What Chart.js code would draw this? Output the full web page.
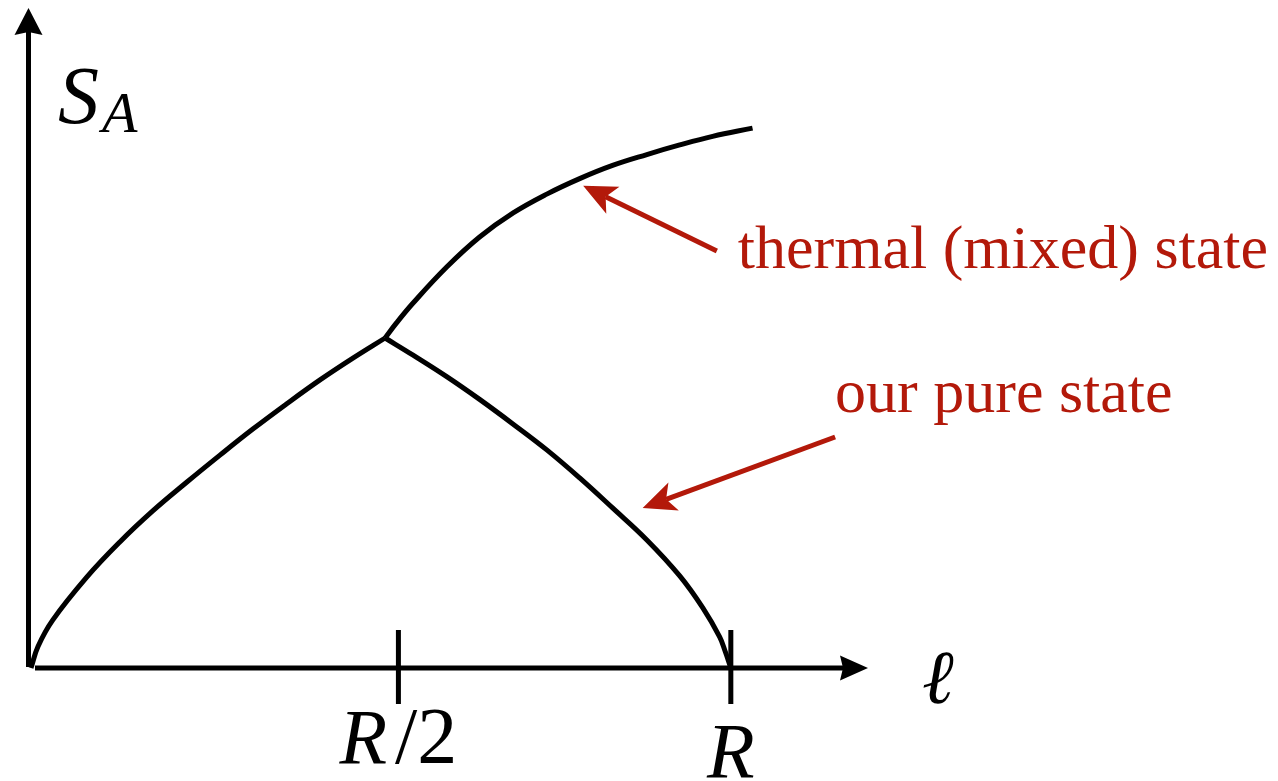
<!DOCTYPE html>
<html>
<head>
<meta charset="utf-8">
<script src="https://cdn.jsdelivr.net/npm/chart.js@4/dist/chart.umd.min.js"></script>
<style>
  html, body { margin: 0; padding: 0; background: #fff; }
  #wrap { width: 1278px; height: 781px; }
</style>
</head>
<body>
<div id="wrap"><canvas id="chart" width="1278" height="781"></canvas></div>
<script>
// x in units of R, y in units of the pure-state peak at R/2
const pureRiseX = [0, 0.010, 0.031, 0.080, 0.127, 0.174, 0.222, 0.270, 0.317, 0.365, 0.413, 0.460, 0.506];
const pureRiseY = [0, 0.065, 0.145, 0.276, 0.382, 0.476, 0.562, 0.645, 0.724, 0.800, 0.873, 0.939, 1.000];

const pureFallX = [0.506, 0.546, 0.594, 0.641, 0.689, 0.737, 0.784, 0.831, 0.880, 0.927, 0.960, 0.984, 0.992, 1.000];
const pureFallY = [1.000, 0.948, 0.883, 0.814, 0.739, 0.661, 0.576, 0.485, 0.388, 0.279, 0.182, 0.094, 0.050, 0];

const thermalX = [0.506, 0.522, 0.546, 0.594, 0.641, 0.689, 0.737, 0.784, 0.831, 0.880, 0.927, 0.974, 1.031];
const thermalY = [1.000, 1.045, 1.106, 1.215, 1.306, 1.379, 1.436, 1.483, 1.523, 1.556, 1.585, 1.611, 1.636];

const tickValues = [0.525, 1.0];
const tickLabels = ['R/2', 'R'];

const noteTexts = ['thermal (mixed) state', 'our pure state'];
// arrow start, arrow tip, text anchor (left, baseline) in data units
const noteArrows = [
    { from: [0.980, 1.264], to: [0.789, 1.461], text: [1.010, 1.212] },
    { from: [1.149, 0.700], to: [0.874, 0.485], text: [1.149, 0.776] }
];

const ink = '#000000';
const red = '#b3190a';

const toPoints = (xs, ys) => xs.map((x, i) => ({ x, y: ys[i] }));

function arrowHead(ctx, tipX, tipY, fromX, fromY, len, half, notch) {
    const L = Math.hypot(tipX - fromX, tipY - fromY);
    const ux = (tipX - fromX) / L, uy = (tipY - fromY) / L;
    const nx = -uy, ny = ux;
    const bx = tipX - ux * len, by = tipY - uy * len;
    ctx.beginPath();
    ctx.moveTo(tipX, tipY);
    ctx.lineTo(bx + nx * half, by + ny * half);
    ctx.lineTo(tipX - ux * (len - notch), tipY - uy * (len - notch));
    ctx.lineTo(bx - nx * half, by - ny * half);
    ctx.closePath();
    ctx.fill();
}

function arrowLine(ctx, x0, y0, x1, y1, width, len, half, notch, color) {
    const L = Math.hypot(x1 - x0, y1 - y0);
    const ux = (x1 - x0) / L, uy = (y1 - y0) / L;
    ctx.strokeStyle = color;
    ctx.fillStyle = color;
    ctx.lineWidth = width;
    ctx.lineCap = 'butt';
    ctx.beginPath();
    ctx.moveTo(x0, y0);
    ctx.lineTo(x1 - ux * (len - notch), y1 - uy * (len - notch));
    ctx.stroke();
    arrowHead(ctx, x1, y1, x0, y0, len, half, notch);
}

const axesPlugin = {
    id: 'sketchAxes',
    beforeDatasetsDraw(chart) {
        const { ctx, chartArea, scales } = chart;
        const xs = scales.x, ys = scales.y;
        const ox = xs.getPixelForValue(0);
        const oy = ys.getPixelForValue(0);
        ctx.save();
        // vertical axis
        arrowLine(ctx, ox - 2.5, oy - 1, ox - 2.5, chartArea.top, 5, 27, 14, 3, ink);
        // horizontal axis
        arrowLine(ctx, ox + 4, oy, chartArea.right, oy, 5, 28, 12.5, 3, ink);

        // ticks
        ctx.strokeStyle = ink;
        ctx.lineWidth = 5;
        tickValues.forEach(v => {
            const px = xs.getPixelForValue(v);
            ctx.beginPath();
            ctx.moveTo(px, oy - 38);
            ctx.lineTo(px, oy + 36);
            ctx.stroke();
        });
        ctx.restore();
    },
    afterDatasetsDraw(chart) {
        const { ctx, chartArea, scales } = chart;
        const xs = scales.x, ys = scales.y;
        const ox = xs.getPixelForValue(0);
        const oy = ys.getPixelForValue(0);
        ctx.save();
        ctx.fillStyle = ink;
        ctx.textBaseline = 'alphabetic';
        ctx.textAlign = 'left';

        // tick labels: italic R, upright "/2"
        const italic = 'italic 78px "Liberation Serif", serif';
        const upright = '80px "Liberation Serif", serif';
        const drops = [95, 109];
        tickLabels.forEach((lab, i) => {
            const px = xs.getPixelForValue(tickValues[i]);
            const head = lab.slice(0, 1), tail = lab.slice(1);
            const gap = tail ? 8 : 0;
            ctx.font = italic;
            const w1 = ctx.measureText(head).width;
            ctx.font = upright;
            const w2 = ctx.measureText(tail).width;
            const x = px - (w1 + w2 + gap) / 2;
            ctx.font = italic;
            ctx.fillText(head, x, oy + drops[i]);
            ctx.font = upright;
            ctx.fillText(tail, x + w1 + gap, oy + drops[i]);
        });

        // axis titles
        ctx.font = 'italic 82px "Liberation Serif", serif';
        ctx.fillText('S', ox + 27, chartArea.top + 115);
        ctx.font = 'italic 58px "Liberation Serif", serif';
        ctx.fillText('A', ox + 71, chartArea.top + 124);
        ctx.font = 'italic 76px "Liberation Serif", serif';
        ctx.fillText('\u2113', chartArea.right + 54, oy + 35);

        // annotations
        ctx.font = '62px "Liberation Serif", serif';
        noteArrows.forEach((a, i) => {
            arrowLine(ctx,
                xs.getPixelForValue(a.from[0]), ys.getPixelForValue(a.from[1]),
                xs.getPixelForValue(a.to[0]), ys.getPixelForValue(a.to[1]),
                5, 33, 15, 8, red);
            ctx.fillStyle = red;
            ctx.fillText(noteTexts[i], xs.getPixelForValue(a.text[0]), ys.getPixelForValue(a.text[1]));
        });
        ctx.restore();
    }
};

const curveStyle = {
    borderColor: ink,
    borderWidth: 5,
    pointRadius: 0,
    fill: false,
    clip: false,
    tension: 0.4
};

new Chart(document.getElementById('chart'), {
    type: 'line',
    data: {
        datasets: [
            { label: 'pure rise', data: toPoints(pureRiseX, pureRiseY), ...curveStyle },
            { label: 'pure fall', data: toPoints(pureFallX, pureFallY), ...curveStyle },
            { label: 'thermal', data: toPoints(thermalX, thermalY), ...curveStyle }
        ]
    },
    options: {
        responsive: false,
        animation: false,
        layout: { padding: { left: 31, top: 8, right: 410, bottom: 113 } },
        scales: {
            x: { type: 'linear', min: 0, max: 1.196, display: false },
            y: { type: 'linear', min: 0, max: 2.0, display: false }
        },
        plugins: {
            legend: { display: false },
            tooltip: { enabled: false }
        }
    },
    plugins: [axesPlugin]
});
</script>
</body>
</html>
